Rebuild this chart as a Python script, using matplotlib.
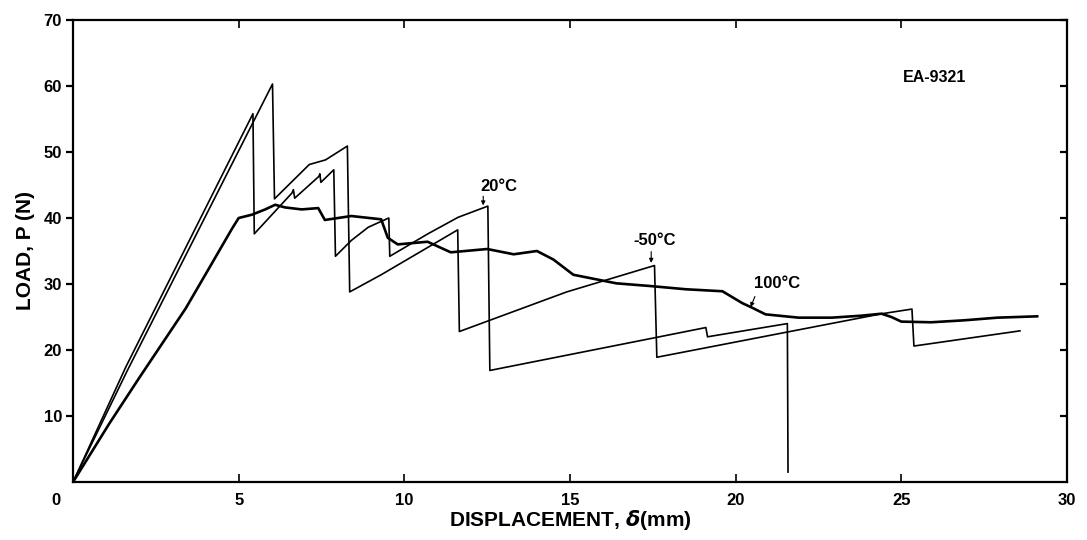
import matplotlib
matplotlib.use("Agg")
import matplotlib.pyplot as plt
import matplotlib.transforms as mtransforms

# load-displacement traces, EA-9321 adhesive
x_20c = [0, 1.6, 5.43, 5.47, 6.61, 6.65, 6.69, 7.42, 7.45, 7.48, 7.87, 7.92,
         8.40, 8.91, 9.53, 9.56, 10.71, 11.62, 12.52, 12.58, 17.4, 19.1,
         19.15, 21.56, 21.58]
y_20c = [0, 17.5, 55.8, 37.6, 43.8, 44.3, 43.0, 46.3, 46.7, 45.4, 47.3, 34.2,
         36.6, 38.6, 40.0, 34.2, 37.6, 40.1, 41.8, 16.9, 21.7, 23.4,
         22.0, 24.0, 1.5]

x_m50c = [0, 1.65, 6.02, 6.08, 7.13, 7.62, 8.28, 8.35, 9.3, 11.61, 11.66,
          14.9, 17.55, 17.62, 24.42, 25.32, 25.38, 28.58]
y_m50c = [0, 17.0, 60.3, 42.9, 48.1, 48.8, 50.9, 28.8, 31.4, 38.2, 22.8,
          28.8, 32.8, 18.9, 25.5, 26.2, 20.6, 22.9]

x_100c = [0, 1.1, 2.0, 3.4, 4.2, 4.8, 5.0, 5.4, 5.8, 6.1, 6.4, 6.9, 7.4, 7.6,
          8.4, 9.3, 9.5, 9.8, 10.7, 11.4, 12.5, 13.3, 14.0, 14.5, 15.1, 15.9,
          16.4, 17.4, 18.5, 19.6, 19.9, 20.2, 20.5, 20.9, 21.9, 22.9, 23.8,
          24.4, 24.7, 25.0, 25.9, 26.9, 27.9, 29.1]
y_100c = [0, 8.9, 15.8, 26.3, 33.2, 38.4, 40.0, 40.5, 41.3, 42.0, 41.6, 41.3,
          41.5, 39.7, 40.3, 39.8, 37.0, 36.0, 36.4, 34.8, 35.3, 34.5, 35.0,
          33.7, 31.4, 30.6, 30.1, 29.7, 29.2, 28.9, 28.0, 27.1, 26.4, 25.4,
          24.9, 24.9, 25.2, 25.5, 25.0, 24.3, 24.2, 24.5, 24.9, 25.1]

x_ticks = [0, 5, 10, 15, 20, 25, 30]
y_ticks = [10, 20, 30, 40, 50, 60, 70]

plt.rcParams['font.family'] = ['Liberation Sans', 'DejaVu Sans']
plt.rcParams['font.weight'] = 'bold'

fig = plt.figure(figsize=(10.87, 5.40), dpi=100)
ax = fig.add_axes([0.0672, 0.1074, 0.9144, 0.8556])

ax.plot(x_20c, y_20c, color='black', lw=1.2)
ax.plot(x_m50c, y_m50c, color='black', lw=1.2)
ax.plot(x_100c, y_100c, color='black', lw=1.9)

ax.set_xlim(0, 30)
ax.set_ylim(0, 70)
ax.set_xticks(x_ticks)
ax.set_yticks(y_ticks)
ax.set_xticklabels([str(t) for t in x_ticks], fontsize=12, fontweight='bold')
ax.set_yticklabels([str(t) for t in y_ticks], fontsize=12, fontweight='bold')

ax.tick_params(axis='x', direction='in', length=6, width=1.2, pad=8,
               top=True)
ax.tick_params(axis='y', direction='out', length=5, width=1.6, pad=3,
               right=True)
for t in ax.yaxis.get_major_ticks():
    t.tick2line.set_marker(0)  # right side ticks point into the plot
for s in ax.spines.values():
    s.set_linewidth(1.6)

# nudge the "0" under the origin slightly to the left
lab0 = ax.get_xticklabels()[0]
lab0.set_transform(lab0.get_transform() +
                   mtransforms.ScaledTranslation(-0.17, 0, fig.dpi_scale_trans))

ax.set_xlabel(r'DISPLACEMENT, $\delta$(mm)', fontsize=15, fontweight='bold',
              labelpad=0)
ax.set_ylabel('LOAD, P (N)', fontsize=15, fontweight='bold', labelpad=6)

ax.text(26.0, 61.3, 'EA-9321', fontsize=11.5, fontweight='bold',
        ha='center', va='center')

arrow = dict(arrowstyle='-|>', lw=0.8, color='black', mutation_scale=6,
             shrinkA=0, shrinkB=0)
ax.annotate('', xy=(12.38, 41.9), xytext=(12.38, 43.3), arrowprops=arrow)
ax.text(12.85, 44.8, '20°C', fontsize=12, fontweight='bold',
        ha='center', va='center')
ax.annotate('', xy=(17.45, 33.2), xytext=(17.45, 34.9), arrowprops=arrow)
ax.text(17.55, 36.6, '-50°C', fontsize=12, fontweight='bold',
        ha='center', va='center')
ax.annotate('', xy=(20.45, 26.5), xytext=(20.58, 28.1), arrowprops=arrow)
ax.text(21.25, 30.1, '100°C', fontsize=12, fontweight='bold',
        ha='center', va='center')

fig.savefig('out.png', dpi=100)
